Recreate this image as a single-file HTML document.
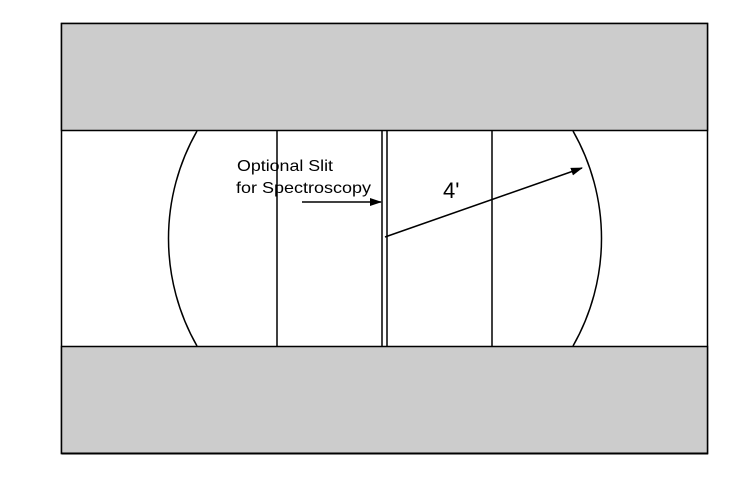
<!DOCTYPE html>
<html><head><meta charset="utf-8"><style>html,body{margin:0;padding:0;background:#fff;}svg{display:block}</style></head>
<body>
<svg width="751" height="482" viewBox="0 0 751 482" xmlns="http://www.w3.org/2000/svg">
<defs><marker id="ah" markerWidth="12" markerHeight="8" refX="11" refY="4" orient="auto" markerUnits="userSpaceOnUse"><path d="M0,0 L12,4 L0,8 z" fill="#000"/></marker></defs>
<rect x="61.5" y="23.5" width="646" height="430" fill="#fff" stroke="#000" stroke-width="1.5"/>
<rect x="61.5" y="23.5" width="646" height="107" fill="#cccccc" stroke="#000" stroke-width="1.5"/>
<rect x="61.5" y="346.5" width="646" height="107" fill="#cccccc" stroke="#000" stroke-width="1.5"/>
<line x1="62" y1="453.5" x2="708" y2="453.5" stroke="#000" stroke-width="2"/>
<path d="M197,131 A217,217 0 0 0 197,346" fill="none" stroke="#000" stroke-width="1.5"/>
<path d="M573,131 A217,217 0 0 1 573,346" fill="none" stroke="#000" stroke-width="1.5"/>
<line x1="277" y1="131" x2="277" y2="346" stroke="#000" stroke-width="1.5"/>
<line x1="382" y1="131" x2="382" y2="346" stroke="#000" stroke-width="1.5"/>
<line x1="387" y1="131" x2="387" y2="346" stroke="#000" stroke-width="1.5"/>
<line x1="492" y1="131" x2="492" y2="346" stroke="#000" stroke-width="1.5"/>
<line x1="385" y1="237" x2="582" y2="168" stroke="#000" stroke-width="1.5" marker-end="url(#ah)"/>
<line x1="302" y1="202" x2="381" y2="202" stroke="#000" stroke-width="1.5" marker-end="url(#ah)"/>
<text x="237" y="171" font-family="Liberation Sans, sans-serif" font-size="16" textLength="96" lengthAdjust="spacingAndGlyphs" fill="#000">Optional Slit</text>
<text x="236" y="193" font-family="Liberation Sans, sans-serif" font-size="16" textLength="135" lengthAdjust="spacingAndGlyphs" fill="#000">for Spectroscopy</text>
<text x="443" y="198" font-family="Liberation Sans, sans-serif" font-size="22" fill="#000">4'</text>
</svg>
</body></html>
